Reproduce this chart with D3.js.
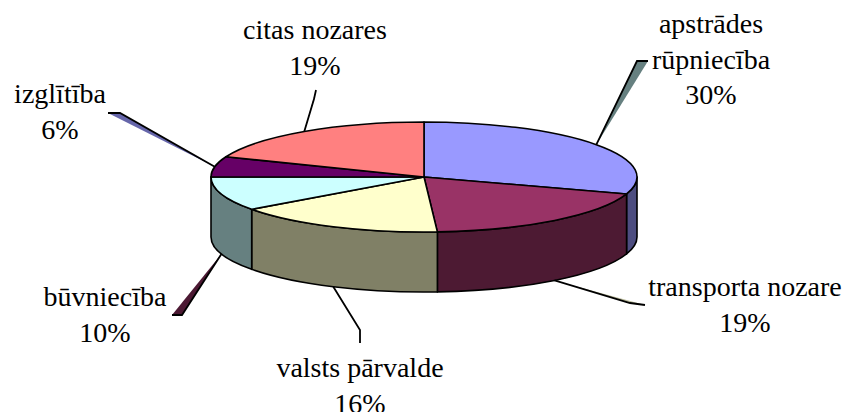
<!DOCTYPE html>
<html>
<head>
<meta charset="utf-8">
<script src="https://cdn.jsdelivr.net/npm/d3@7"></script>
<style>
  body { margin: 0; background: #fff; }
</style>
</head>
<body>
<div id="pie"></div>
<script>
var categories = ["apstrādes rūpniecība", "transporta nozare", "valsts pārvalde", "būvniecība", "izglītība", "citas nozares"];
var values = [30, 19, 16, 10, 6, 19];
var labelLines = [["apstrādes", "rūpniecība"], ["transporta nozare"], ["valsts pārvalde"], ["būvniecība"], ["izglītība"], ["citas nozares"]];

var colors = ["#9999FF", "#993366", "#FFFFCC", "#CCFFFF", "#660066", "#FF8080"];
var leaderColors = ["#668080", "#B8B898", "none", "#4C1933", "#6666AA", "#440044"];

// leader elbow / end points and label anchor (centre x, first baseline)
var layout = [
    {elbow: [637, 61], end: [648, 61], lx: 711, ly: 33},
    {elbow: [630, 303], end: [645, 305], lx: 745, ly: 296},
    {elbow: [360, 330], end: [360, 343], lx: 360, ly: 377},
    {elbow: [182, 315], end: [172, 315], lx: 105, ly: 306},
    {elbow: [120, 113], end: [108, 113], lx: 60, ly: 103},
    {elbow: [314, 99], end: [316, 90], lx: 315, ly: 39}
];

var width = 845,
    height = 412,
    cx = 424, cy = 177,
    rx = 213, ry = 55,
    depth = 60,
    lineH = 35.5;

var data = categories.map(function (c, i) { return {title: c, value: values[i], i: i}; });

var pie = d3.pie()
    .sort(null)
    .value(function (d) { return d.value; })(data);

function pt(a, dz) {
    return [cx + rx * Math.sin(a), cy - ry * Math.cos(a) + (dz || 0)];
}

function half(c) {
    var r = d3.rgb(c);
    return d3.rgb(r.r * 0.5, r.g * 0.5, r.b * 0.5).formatHex();
}

var svg = d3.select("#pie")
    .append("svg")
    .attr("width", width)
    .attr("height", height);

// side walls (front half only)
svg.selectAll("path.wall")
    .data(pie.filter(function (d) {
        return Math.min(d.endAngle, 1.5 * Math.PI) > Math.max(d.startAngle, 0.5 * Math.PI);
    }))
    .enter().append("path")
    .attr("class", "wall")
    .attr("d", function (d) {
        var b0 = Math.max(d.startAngle, 0.5 * Math.PI),
            b1 = Math.min(d.endAngle, 1.5 * Math.PI);
        var p0 = pt(b0), p1 = pt(b1), q1 = pt(b1, depth), q0 = pt(b0, depth);
        return "M" + p0 + "A" + rx + "," + ry + " 0 0 1 " + p1 +
            "L" + q1 + "A" + rx + "," + ry + " 0 0 0 " + q0 + "Z";
    })
    .style("fill", function (d) { return half(colors[d.data.i]); })
    .style("stroke", "#000")
    .style("stroke-width", 1.6)
    .style("stroke-linejoin", "round");

// top faces
svg.selectAll("path.top")
    .data(pie)
    .enter().append("path")
    .attr("class", "top")
    .attr("d", function (d) {
        var p0 = pt(d.startAngle), p1 = pt(d.endAngle);
        var large = d.endAngle - d.startAngle > Math.PI ? 1 : 0;
        return "M" + cx + "," + cy + "L" + p0 + "A" + rx + "," + ry + " 0 " + large + " 1 " + p1 + "Z";
    })
    .style("fill", function (d) { return colors[d.data.i]; })
    .style("stroke", "#000")
    .style("stroke-width", 1.6)
    .style("stroke-linejoin", "round");

// leader lines
function leaderStart(d) {
    var a = (d.startAngle + d.endAngle) / 2;
    var front = Math.cos(a) < 0;
    return pt(a, front ? depth : 0);
}

var leaders = svg.selectAll("g.leader")
    .data(pie)
    .enter().append("g")
    .attr("class", "leader");

leaders.append("path")
    .attr("d", function (d) {
        var L = layout[d.data.i];
        return "M" + leaderStart(d) + "L" + L.elbow + "L" + L.end + "Z";
    })
    .style("fill", function (d) { return leaderColors[d.data.i]; })
    .style("stroke", "none");

leaders.append("path")
    .attr("d", function (d) {
        var L = layout[d.data.i];
        return "M" + leaderStart(d) + "L" + L.elbow + "L" + L.end;
    })
    .style("fill", "none")
    .style("stroke", "#000")
    .style("stroke-width", 1.8);

// labels
var labels = svg.selectAll("text.label")
    .data(pie)
    .enter().append("text")
    .attr("class", "label")
    .attr("text-anchor", "middle")
    .attr("font-family", "'Liberation Serif', 'DejaVu Serif', serif")
    .attr("font-size", 28)
    .attr("fill", "#000");

labels.selectAll("tspan")
    .data(function (d) { return labelLines[d.data.i].concat([d.data.value + "%"]).map(function (t) { return {t: t, i: d.data.i}; }); })
    .enter().append("tspan")
    .attr("x", function (d) { return layout[d.i].lx; })
    .attr("y", function (d, j) { return layout[d.i].ly + j * lineH; })
    .text(function (d) { return d.t; });
</script>
</body>
</html>
